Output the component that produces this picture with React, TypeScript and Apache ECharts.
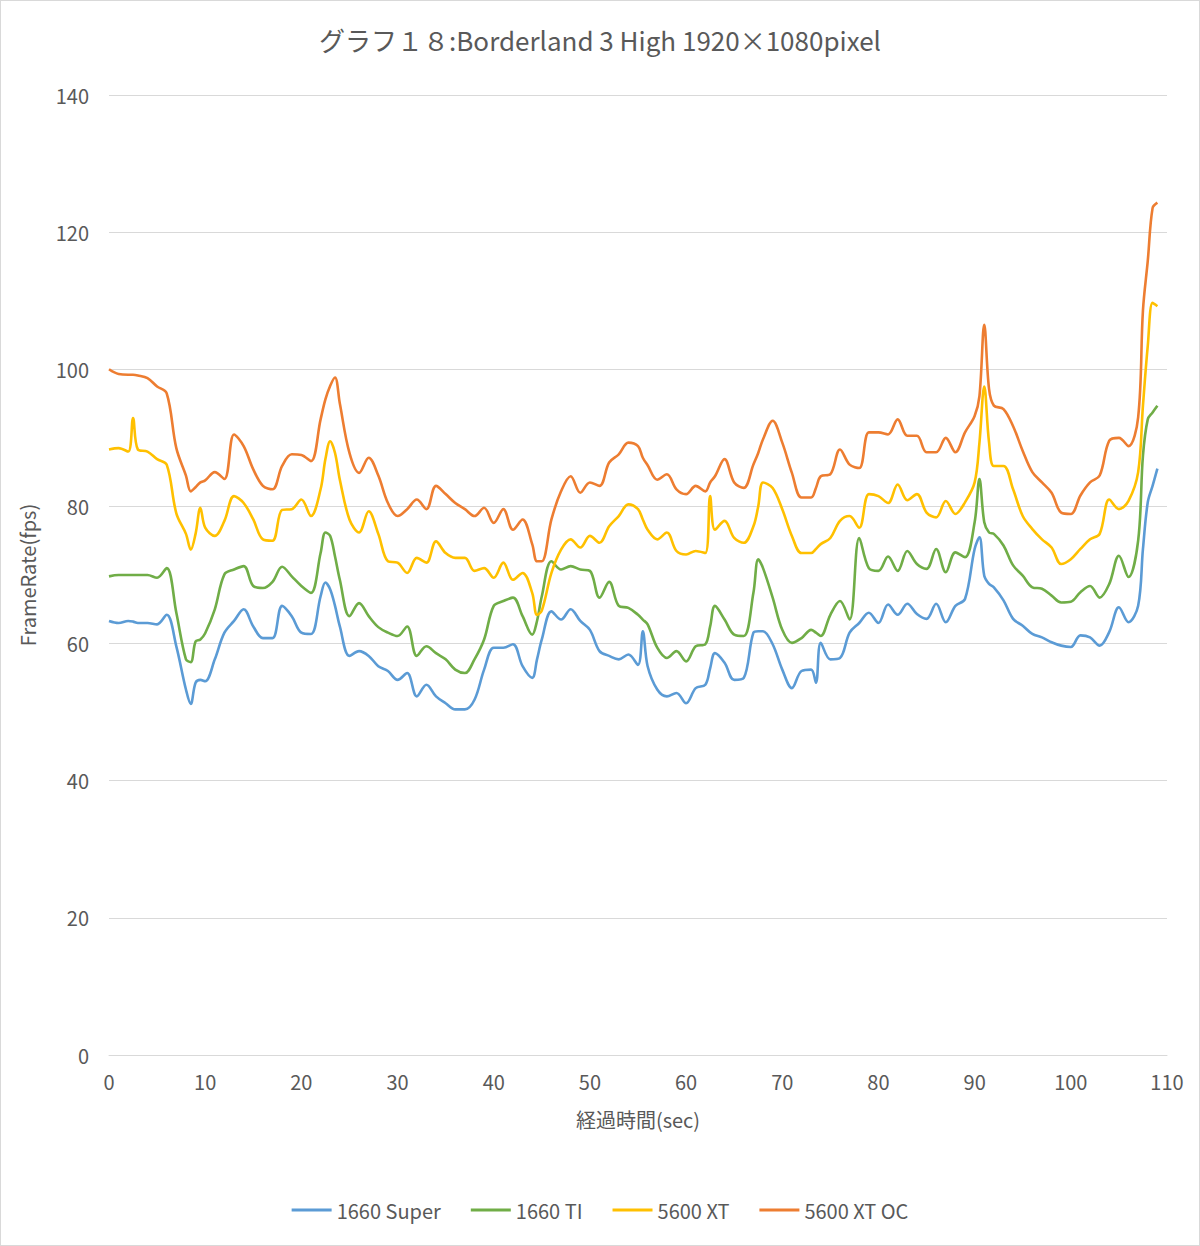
import React, { useEffect, useRef } from "react";
import * as echarts from "echarts";

const seconds = [
  0, 1, 2, 2.5, 3, 4, 5, 6, 7, 8, 8.5, 9, 9.5,
  10, 11, 12, 13, 14, 15, 16, 17, 18, 19,
  20, 21, 22, 22.5, 23, 23.5, 24, 25, 26, 27, 28, 29,
  30, 31, 32, 33, 34, 35, 36, 37, 38, 39,
  40, 41, 42, 43, 44, 44.5, 45, 46, 47, 48, 49,
  50, 51, 52, 53, 54, 55, 55.5, 56, 57, 58, 59,
  60, 61, 62, 62.5, 63, 64, 65, 66, 67, 67.5, 68, 69,
  70, 71, 72, 73, 73.5, 74, 75, 76, 77, 78, 79,
  80, 81, 82, 83, 84, 85, 86, 87, 88, 89,
  90, 90.5, 91, 91.5, 92, 93, 94, 95, 96, 97, 98, 99,
  100, 101, 102, 103, 104, 105, 106, 107, 107.5, 108, 108.5, 109,
];

const gtx1660Super = [
  63.3, 63, 63.3, 63.2, 63, 63, 62.8, 64.2, 59.6, 53.3, 51.2, 54.3, 54.7,
  54.5, 57.7, 61.6, 63.3, 65, 62.5, 60.8, 60.8, 65.5, 64,
  61.6, 61.4, 66.9, 68.9, 67.9, 65.5, 62.5, 58.2, 58.9, 58.2, 56.7, 56,
  54.7, 55.7, 52.3, 54, 52.3, 51.3, 50.4, 50.4, 51.8, 56.2,
  59.4, 59.4, 59.9, 56.7, 55, 57.7, 60.6, 64.7, 63.5, 65, 63.3,
  62, 58.9, 58.2, 57.7, 58.4, 56.9, 61.8, 56.7, 53.3, 52.3, 52.8,
  51.3, 53.5, 54, 56.4, 58.6, 57.2, 54.7, 55, 61.6, 61.8, 61.8, 59.9,
  56.2, 53.5, 56, 56.2, 54.3, 60.1, 57.7, 57.9, 61.6, 63, 64.5,
  63, 65.7, 64.2, 65.8, 64.3, 63.6, 65.8, 63.1, 65.5, 66.5,
  73.8, 75.5, 69.9, 68.7, 68.2, 66.3, 63.6, 62.6, 61.4, 60.9, 60.2, 59.7,
  59.5, 61.2, 60.9, 59.7, 61.7, 65.3, 63.1, 65.5, 73.8, 80.6, 83, 85.5,
];

const gtx1660Ti = [
  69.8, 70, 70, 70, 70, 70, 69.6, 71, 64.5, 57.7, 57.3, 60.3, 60.6,
  61.5, 65, 70.1, 70.8, 71.3, 68.4, 68.1, 69, 71.2, 69.8,
  68.4, 67.4, 73.2, 76.2, 75.7, 72.7, 69.3, 64, 65.9, 64, 62.4, 61.6,
  61.1, 62.5, 58.2, 59.6, 58.6, 57.7, 56.2, 55.7, 57.7, 60.6,
  65.5, 66.2, 66.7, 64, 61.3, 63.3, 66.9, 72, 70.8, 71.3, 70.8,
  70.6, 66.7, 69, 65.5, 65.2, 64.2, 63.5, 62.8, 59.4, 57.9, 58.9,
  57.4, 59.6, 59.9, 62.5, 65.5, 63.5, 61.3, 61.1, 67.4, 72.3, 71, 66.7,
  62, 60.1, 60.8, 62, 61.6, 61.1, 64.2, 66.2, 63.5, 75.4, 71,
  70.6, 72.7, 70.6, 73.5, 71.6, 70.9, 73.8, 70.4, 73.3, 72.6,
  77.7, 84, 77.7, 76.2, 76, 74.3, 71.4, 69.9, 68.2, 68, 67, 66,
  66.1, 67.5, 68.4, 66.7, 68.7, 72.8, 69.7, 75, 87.4, 92.7, 93.7, 94.7,
];

const rx5600xt = [
  88.3, 88.5, 88, 92.9, 88.3, 88, 86.9, 86.1, 79, 76, 73.7, 76, 79.8,
  76.9, 75.7, 77.9, 81.5, 80.5, 78.1, 75.2, 75, 79.5, 79.6,
  81, 78.6, 82.5, 86.9, 89.5, 87.8, 83.9, 78.1, 76.2, 79.3, 76, 72,
  71.8, 70.3, 72.5, 71.8, 74.9, 73.2, 72.5, 72.5, 70.6, 71,
  69.6, 71.8, 69.3, 70.3, 67.4, 64.2, 64.8, 70.3, 73.7, 75.2, 74,
  75.7, 74.7, 77.1, 78.6, 80.3, 79.6, 78.1, 76.6, 75.2, 76.2, 73.5,
  73, 73.5, 73.2, 81.5, 76.6, 77.9, 75.4, 74.7, 77.1, 80, 83.5, 82.7,
  79.6, 75.7, 73.2, 73.2, 73.8, 74.5, 75.4, 77.9, 78.6, 76.9, 81.8,
  81.5, 80.5, 83.2, 80.9, 81.8, 79.1, 78.4, 80.8, 78.9, 80.6,
  83.5, 89.3, 97.5, 89.3, 85.9, 85.9, 82.5, 78.6, 76.7, 75.2, 74, 71.6,
  72.3, 73.8, 75.2, 76, 81, 79.6, 80.8, 85, 94.7, 103.4, 109.7, 109.2,
];

const rx5600xtOc = [
  100, 99.3, 99.2, 99.2, 99.1, 98.7, 97.5, 96.5, 88.5, 84.5, 82.2, 82.8, 83.5,
  83.8, 85, 84, 90.5, 88.8, 85.4, 83, 82.5, 85.9, 87.6,
  87.5, 86.6, 92.7, 95.6, 97.6, 98.8, 95, 87.8, 84.9, 87.1, 84.5, 80.5,
  78.6, 79.6, 81, 79.6, 83, 81.8, 80.5, 79.6, 78.6, 79.8,
  77.6, 79.6, 76.6, 78.1, 74.5, 72, 72, 78.1, 82.2, 84.4, 82,
  83.5, 83, 86.4, 87.6, 89.3, 88.8, 87.1, 86, 83.9, 84.7, 82.5,
  81.8, 83, 82.2, 83.5, 84.4, 86.9, 83.5, 82.7, 86.1, 87.8, 89.8, 92.5,
  89.3, 84.9, 81.3, 81.3, 82.7, 84.4, 84.7, 88.3, 86.1, 85.6, 90.8,
  90.8, 90.5, 92.7, 90.3, 90.3, 87.9, 87.9, 90, 87.9, 90.8,
  93.2, 96.1, 106.5, 97.1, 94.7, 94.2, 91.7, 88.1, 85, 83.5, 82, 79.1,
  78.9, 81.6, 83.5, 84.5, 89.6, 90, 88.8, 93, 108.6, 115.8, 123.5, 124.3,
];

const seriesNames = ["1660 Super", "1660 TI", "5600 XT", "5600 XT OC"];
const seriesColors = ["#5B9BD5", "#70AD47", "#FFC000", "#ED7D31"];
const seriesValues = [gtx1660Super, gtx1660Ti, rx5600xt, rx5600xtOc];

const titleText = "グラフ１８:Borderland 3 High 1920×1080pixel";
const xAxisName = "経過時間(sec)";
const yAxisName = "FrameRate(fps)";

const FONT = "'Noto Sans CJK JP', 'Noto Sans', sans-serif";
const TEXT_COLOR = "#595959";

export default function App() {
  const ref = useRef<HTMLDivElement>(null);

  useEffect(() => {
    if (!ref.current) return;
    const chart = echarts.init(ref.current, null, { renderer: "svg" });
    chart.setOption({
      animation: false,
      backgroundColor: "#ffffff",
      title: {
        text: titleText,
        left: "center",
        top: 20,
        textStyle: {
          fontFamily: FONT,
          fontSize: 26,
          fontWeight: "normal",
          color: TEXT_COLOR,
        },
      },
      legend: {
        bottom: 20,
        left: "center",
        icon: "rect",
        itemWidth: 40,
        itemHeight: 3,
        itemGap: 30,
        textStyle: { fontFamily: FONT, fontSize: 20, color: TEXT_COLOR },
        data: seriesNames,
      },
      grid: { left: 108, right: 32, top: 94, bottom: 190, containLabel: false },
      xAxis: {
        type: "value",
        min: 0,
        max: 110,
        interval: 10,
        name: xAxisName,
        nameLocation: "middle",
        nameGap: 54,
        nameTextStyle: { fontFamily: FONT, fontSize: 20, color: TEXT_COLOR },
        axisLine: { show: true, lineStyle: { color: "#d9d9d9", width: 1 } },
        axisTick: { show: false },
        splitLine: { show: false },
        axisLabel: { fontFamily: FONT, fontSize: 20, color: TEXT_COLOR, margin: 16 },
      },
      yAxis: {
        type: "value",
        min: 0,
        max: 140,
        interval: 20,
        name: yAxisName,
        nameLocation: "middle",
        nameGap: 72,
        nameTextStyle: { fontFamily: FONT, fontSize: 20, color: TEXT_COLOR },
        axisLine: { show: false },
        axisTick: { show: false },
        splitLine: { show: true, lineStyle: { color: "#d9d9d9", width: 1 } },
        axisLabel: { fontFamily: FONT, fontSize: 20, color: TEXT_COLOR, margin: 20 },
      },
      series: seriesNames.map((name, si) => ({
        name,
        type: "line",
        smooth: 0.35,
        showSymbol: false,
        symbol: "none",
        lineStyle: { color: seriesColors[si], width: 2.6 },
        itemStyle: { color: seriesColors[si] },
        data: seconds.map((t, i) => [t, seriesValues[si][i]]),
      })),
    });
    return () => chart.dispose();
  }, []);

  return (
    <div
      style={{
        position: "absolute",
        left: 0,
        top: 0,
        width: 1200,
        height: 1246,
        boxSizing: "border-box",
        border: "1px solid #d9d9d9",
        background: "#fff",
      }}
    >
      <div ref={ref} style={{ width: 1198, height: 1244 }} />
    </div>
  );
}
